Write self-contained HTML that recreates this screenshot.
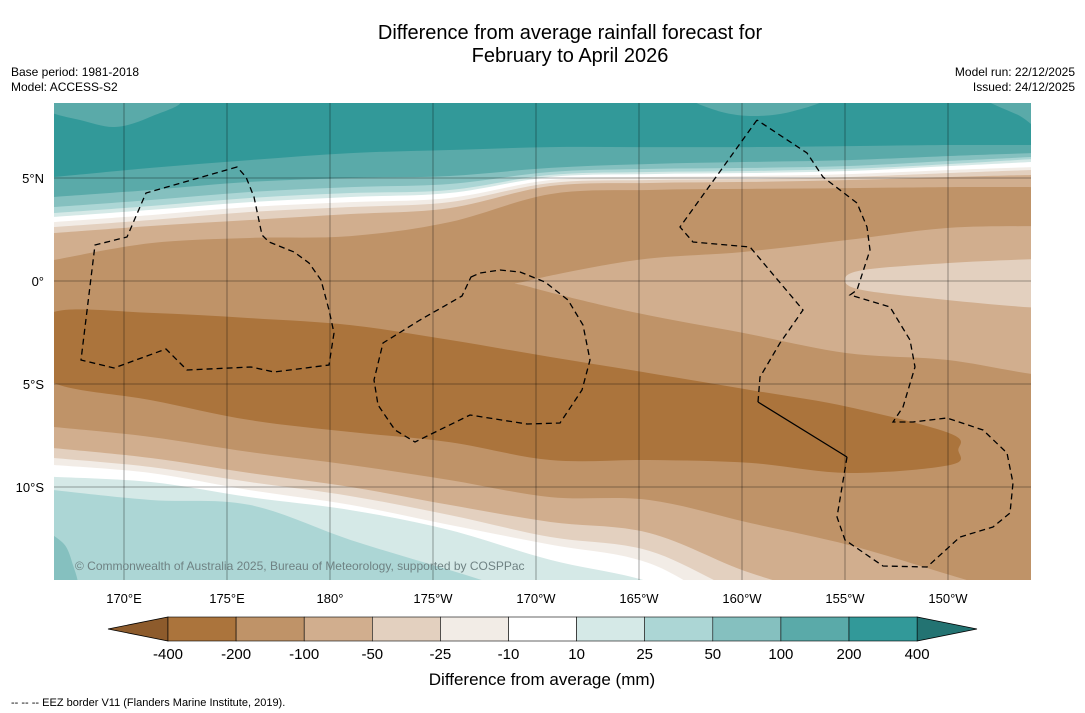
<!DOCTYPE html>
<html><head><meta charset="utf-8">
<style>
html,body{margin:0;padding:0;background:#fff;}
body{width:1085px;height:713px;position:relative;overflow:hidden;font-family:"Liberation Sans",sans-serif;}
.t{position:absolute;white-space:nowrap;color:#000;}
</style></head>
<body>
<div class="t" style="left:0;width:1140px;top:22px;text-align:center;font-size:20px;line-height:23px;">Difference from average rainfall forecast for<br>February to April 2026</div>
<div class="t" style="left:11px;top:65px;font-size:12px;line-height:15px;">Base period: 1981-2018<br>Model: ACCESS-S2</div>
<div class="t" style="right:10px;top:65px;font-size:12px;line-height:15px;text-align:right;">Model run: 22/12/2025<br>Issued: 24/12/2025</div>
<svg id="map" width="1085" height="713" style="position:absolute;left:0;top:0;" xmlns="http://www.w3.org/2000/svg">
<defs><clipPath id="mc"><rect x="54" y="103" width="977" height="477"/></clipPath></defs>
<g id="fields" clip-path="url(#mc)"></g>
<g id="grid"></g>
<g id="borders" clip-path="url(#mc)"></g>
<text x="75" y="570" font-size="12" fill="#6f8283" font-family="Liberation Sans, sans-serif">© Commonwealth of Australia 2025, Bureau of Meteorology, supported by COSPPac</text>
<g id="axes"></g>
<g id="cbar"></g>
<text x="542" y="685" font-size="17" text-anchor="middle" font-family="Liberation Sans, sans-serif">Difference from average (mm)</text>
<text x="11" y="706" font-size="11" font-family="Liberation Sans, sans-serif">--  --  -- EEZ border V11 (Flanders Marine Institute, 2019).</text>
</svg>
<script>
// ---- data ----
const levels = ["-400","-200","-100","-50","-25","-10","10","25","50","100","200","400"];
const bandColors = ["#ab743c","#bf9368","#d1ae8e","#e3d0bf","#f2ece6","#ffffff","#d5e9e7","#acd6d5","#85c0bf","#5aaaa9","#329999"];
const lonTicks = [170,175,180,185,190,195,200,205,210];
const lonTickLabels = ["170°E","175°E","180°","175°W","170°W","165°W","160°W","155°W","150°W"];
const latTicks = [5,0,-5,-10];
const latTickLabels = ["5°N","0°","5°S","10°S"];
const lonCols = [166.6,171.3,176.1,181,185.8,190.7,195.5,200.4,205.2,210.1,214.1];
// northern contour latitudes (south edge of each band)
const n200 = [5.05,5.49,5.87,6.21,6.36,6.50,6.50,6.50,6.55,6.60,6.60];
const n100 = [4.08,4.42,4.81,5.00,5.10,5.49,5.68,5.78,5.87,6.07,6.21];
const n50  = [3.59,3.93,4.32,4.56,4.71,5.29,5.44,5.49,5.58,5.83,6.02];
const n25  = [3.30,3.64,4.03,4.27,4.42,5.15,5.29,5.34,5.44,5.68,5.92];
const n10  = [3.11,3.45,3.83,4.08,4.27,5.05,5.19,5.24,5.34,5.58,5.78];
const nm10 = [2.86,3.20,3.59,3.83,4.03,4.90,5.05,5.10,5.19,5.39,5.53];
const nm25 = [2.62,2.96,3.35,3.59,3.83,4.76,4.90,4.95,5.05,5.24,5.39];
const nm50 = [2.33,2.67,2.96,3.25,3.54,4.61,4.76,4.81,4.90,5.05,5.15];
const nm100= [1.02,1.84,2.09,2.18,2.86,4.22,4.42,4.47,4.51,4.56,4.56];
// -400 core
const core400Top = [-1.50,-1.55,-1.80,-2.14,-2.86,-3.69,-4.47,-5.29,-6.12,-7.40];
const core400Bot = [-4.95,-5.78,-6.75,-7.33,-7.82,-8.69,-8.69,-8.83,-9.32,-8.93];
const core400Tip = [210.5,-8.2];
// southern contour latitudes (north edge of each band)
const sm100 = [-7.09,-7.57,-8.30,-8.93,-9.66,-10.49,-10.63,-11.75,-12.82,-14.27,-15.49];
const sm50  = [-8.11,-8.59,-9.32,-10.0,-10.87,-11.70,-12.23,-14.17,-15.49,-16.5,-16.5];
const sm25  = [-8.59,-9.03,-9.76,-10.44,-11.36,-12.43,-13.1,-15.3,-16.5,-16.5,-16.5];
const sm10  = [-8.93,-9.32,-10.15,-10.87,-11.84,-12.80,-13.7,-16.2,-16.5,-16.5,-16.5];
const s10   = [-9.51,-9.76,-10.49,-11.12,-12.09,-13.54,-14.6,-16.5,-16.5,-16.5,-16.5];
const s25   = [-10.15,-10.63,-10.87,-12.57,-14.03,-15.5,-16.5,-16.5,-16.5,-16.5,-16.5];
// tongues (lon, lat)
const tongue100Lon = [189.56,194.9,200.05,205.1,209.95,214.45,218,218,214.45,209.95,205.1,200.05,194.9,189.7];
const tongue100Lat = [0,1.02,1.41,1.99,2.57,2.67,2.7,-4.7,-4.56,-3.83,-3.50,-2.52,-1.55,-0.29];
const tongue50Lon = [205.0,205.87,209.95,214.45,218,218,214.45,209.95,205.87];
const tongue50Lat = [0.05,0.53,0.87,1.07,1.1,-1.4,-1.31,-0.92,-0.44];

// ---- axes ----
const X = lon => 124 + (lon-170)*20.6;
const Y = lat => 281 - lat*20.6;
const NS='http://www.w3.org/2000/svg';
function mk(tag, attrs, parent){const e=document.createElementNS(NS,tag);for(const k in attrs)e.setAttribute(k,attrs[k]);parent.appendChild(e);return e;}
function cr(p){let d='';for(let i=0;i<p.length-1;i++){const p0=p[i-1]||p[i],p1=p[i],p2=p[i+1],p3=p[i+2]||p2;
 d+=` C${p1[0]+(p2[0]-p0[0])/6},${p1[1]+(p2[1]-p0[1])/6} ${p2[0]-(p3[0]-p1[0])/6},${p2[1]-(p3[1]-p1[1])/6} ${p2[0]},${p2[1]}`;}return d;}
function crClosed(p){const n=p.length;let d=`M${p[0][0]},${p[0][1]}`;for(let i=0;i<n;i++){const p0=p[(i-1+n)%n],p1=p[i],p2=p[(i+1)%n],p3=p[(i+2)%n];
 d+=` C${p1[0]+(p2[0]-p0[0])/6},${p1[1]+(p2[1]-p0[1])/6} ${p2[0]-(p3[0]-p1[0])/6},${p2[1]-(p3[1]-p1[1])/6} ${p2[0]},${p2[1]}`;}return d+'Z';}
const colPts = lats => lats.map((la,i)=>[X(lonCols[i]),Y(la)]);
const F=document.getElementById('fields');
function northRegion(lats,color,name){const p=colPts(lats);
 const e=mk('path',{d:`M40,90 L40,${p[0][1]} L${p[0][0]},${p[0][1]}`+cr(p)+` L1045,${p[p.length-1][1]} L1045,90 Z`,fill:color},F);
 
 }
function southRegion(lats,color,name){const p=colPts(lats);
 const e=mk('path',{d:`M40,600 L40,${p[0][1]} L${p[0][0]},${p[0][1]}`+cr(p)+` L1045,${p[p.length-1][1]} L1045,600 Z`,fill:color},F);
 
 }
function closedRegion(pts,color,name){const e=mk('path',{d:crClosed(pts),fill:color},F);
 
 }

const bg=mk('rect',{x:54,y:103,width:977,height:477,fill:bandColors[1]},F);


northRegion(nm100,bandColors[2],'band-minus-100-north');
northRegion(nm50,bandColors[3],'band-minus-50-north');
northRegion(nm25,bandColors[4],'band-minus-25-north');
northRegion(nm10,bandColors[5],'band-neutral-north');
northRegion(n10,bandColors[6],'band-10-north');
northRegion(n25,bandColors[7],'band-25-north');
northRegion(n50,bandColors[8],'band-50-north');
northRegion(n100,bandColors[9],'band-100-north');
northRegion(n200,bandColors[10],'band-200-north');
closedRegion([[40,100],[175,100],[150,117],[115,127],[80,120],[50,112]],bandColors[9],'patch-100-top-left');
closedRegion([[700,98],[820,98],[790,112],[750,116],[715,110]],bandColors[9],'patch-100-top-center');
closedRegion([[985,98],[1040,98],[1040,128],[1020,116]],bandColors[9],'patch-100-top-right');
const corePts=[];
core400Top.forEach((la,i)=>corePts.push([X(lonCols[i]),Y(la)]));
corePts.push([X(core400Tip[0]),Y(core400Tip[1])]);
for(let i=core400Bot.length-1;i>=0;i--)corePts.push([X(lonCols[i]),Y(core400Bot[i])]);
corePts.push([30,Y(-3.2)]);
closedRegion(corePts,bandColors[0],'band-minus-400-core');
closedRegion(tongue100Lon.map((lo,i)=>[X(lo),Y(tongue100Lat[i])]),bandColors[2],'tongue-minus-100');
closedRegion(tongue50Lon.map((lo,i)=>[X(lo),Y(tongue50Lat[i])]),bandColors[3],'tongue-minus-50');
southRegion(sm100,bandColors[2],'band-minus-100-south');
southRegion(sm50,bandColors[3],'band-minus-50-south');
southRegion(sm25,bandColors[4],'band-minus-25-south');
southRegion(sm10,bandColors[5],'band-neutral-south');
southRegion(s10,bandColors[6],'band-10-south');
southRegion(s25,bandColors[7],'band-25-south');
closedRegion([[40,535],[62,542],[72,562],[76,590],[40,590]],bandColors[8],'patch-50-bottom-left');

const G=document.getElementById('grid');
lonTicks.forEach(lo=>{const l=mk('line',{x1:X(lo),x2:X(lo),y1:103,y2:580,stroke:'#000','stroke-opacity':0.45,'stroke-width':0.8},G);
 
 });
latTicks.forEach(la=>{const l=mk('line',{x1:54,x2:1031,y1:Y(la),y2:Y(la),stroke:'#000','stroke-opacity':0.45,'stroke-width':0.8},G);
 
 });

const B=document.getElementById('borders');
const b1="M237,167 L146,193 L127,237 L95,245 L81,360 L114,368 L166,349 L187,370 L251,367 L274,372 L329,365 L334,333 L329,310 L321,280 L309,263 L294,252 L269,242 L262,235 L254,197 L246,177 Z";
const b2="M471,277 L480,273 L500,270 L520,272 L545,282 L568,300 L583,325 L590,360 L582,390 L560,423 L527,424 L470,415 L415,442 L395,430 L378,405 L374,380 L383,343 L420,320 L462,296 Z";
const b3a="M757,120 L680,227 L693,242 L750,247 L803,310 L780,343 L760,377 L758,402";
const b3b="M847,457 L837,517 L845,540 L883,566 L927,567 L960,537 L993,527 L1010,513 L1013,483 L1007,453 L983,430 L947,418 L913,422 L893,422 L903,407 L915,367 L910,340 L890,307 L850,295 L857,290 L870,250 L867,227 L857,203 L823,177 L807,153 L757,120";
[[b1,'eez-border-west'],[b2,'eez-border-central'],[b3a,'eez-border-east-north'],[b3b,'eez-border-east-south']].forEach(([d,n])=>{
 const e=mk('path',{d:d,fill:'none',stroke:'#000','stroke-width':1.3,'stroke-dasharray':'6,4'},B);
 
 });
const sl=mk('path',{d:'M758,402 L847,457',fill:'none',stroke:'#000','stroke-width':1.3},B);



const A=document.getElementById('axes');
lonTicks.forEach((lo,i)=>{const t=mk('text',{x:X(lo),y:603,'font-size':13,'text-anchor':'middle','font-family':'Liberation Sans, sans-serif'},A);t.textContent=lonTickLabels[i];
 
 });
latTicks.forEach((la,i)=>{const t=mk('text',{x:44,y:Y(la)+5,'font-size':13,'text-anchor':'end','font-family':'Liberation Sans, sans-serif'},A);t.textContent=latTickLabels[i];
 
 });

const C=document.getElementById('cbar');
const cx0=168,cw=68.1,cy=617,ch=24;
const lt=mk('polygon',{points:`${cx0},${cy} ${cx0},${cy+ch} 108,${cy+ch/2}`,fill:'#8d5b2c',stroke:'#000','stroke-width':0.8},C);


const xe=cx0+cw*11;
const rt=mk('polygon',{points:`${xe},${cy} ${xe},${cy+ch} 977,${cy+ch/2}`,fill:'#237372',stroke:'#000','stroke-width':0.8},C);


bandColors.forEach((c,i)=>{const r=mk('rect',{x:cx0+i*cw,y:cy,width:cw,height:ch,fill:c,stroke:'#000','stroke-width':0.6},C);
 
 });
levels.forEach((lv,i)=>{const t=mk('text',{x:cx0+i*cw,y:659,'font-size':15,'text-anchor':'middle','font-family':'Liberation Sans, sans-serif'},C);t.textContent=lv;
 
 });
</script>
</body></html>
